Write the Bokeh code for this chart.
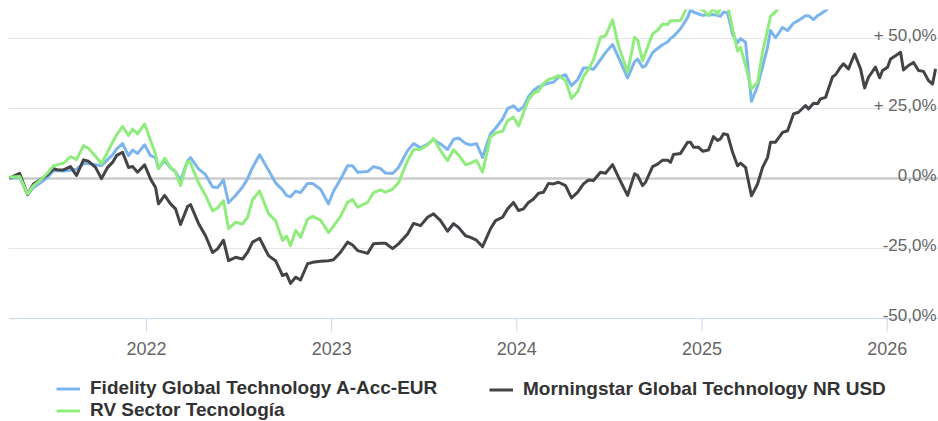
from bokeh.plotting import figure
from bokeh.models import Range1d, FixedTicker, Grid, Span, Legend, LegendItem
from bokeh.core.properties import value
from bokeh.embed import file_html
from bokeh.resources import INLINE

# ---------------- data (decimal year, % change) ----------------
years = [2021.261, 2021.315, 2021.358, 2021.390, 2021.428, 2021.466, 2021.498, 2021.520, 2021.552, 2021.590,
         2021.622, 2021.660, 2021.687, 2021.725, 2021.757, 2021.790, 2021.817, 2021.838, 2021.871, 2021.903,
         2021.925, 2021.952, 2021.990, 2022.022, 2022.049, 2022.065, 2022.098, 2022.130, 2022.157, 2022.184,
         2022.222, 2022.238, 2022.281, 2022.319, 2022.357, 2022.384, 2022.416, 2022.443, 2022.481, 2022.519,
         2022.546, 2022.573, 2022.611, 2022.659, 2022.697, 2022.735, 2022.756, 2022.778, 2022.805, 2022.832,
         2022.870, 2022.897, 2022.940, 2022.983, 2023.010, 2023.048, 2023.086, 2023.113, 2023.140, 2023.194,
         2023.226, 2023.264, 2023.291, 2023.329, 2023.361, 2023.410, 2023.442, 2023.480, 2023.518, 2023.550,
         2023.588, 2023.626, 2023.658, 2023.685, 2023.723, 2023.750, 2023.782, 2023.815, 2023.858, 2023.885,
         2023.923, 2023.950, 2023.982, 2024.009, 2024.036, 2024.063, 2024.090, 2024.117, 2024.144, 2024.171,
         2024.198, 2024.225, 2024.263, 2024.295, 2024.328, 2024.360, 2024.387, 2024.414, 2024.452, 2024.479,
         2024.517, 2024.549, 2024.598, 2024.636, 2024.652, 2024.679, 2024.695, 2024.733, 2024.760, 2024.787,
         2024.814, 2024.830, 2024.846, 2024.884, 2024.922, 2024.938, 2024.954, 2024.981, 2025.003, 2025.035,
         2025.062, 2025.084, 2025.100, 2025.116, 2025.138, 2025.165, 2025.192, 2025.208, 2025.235, 2025.267,
         2025.300, 2025.327, 2025.354, 2025.370, 2025.397, 2025.435, 2025.462, 2025.494, 2025.521, 2025.559,
         2025.575, 2025.602, 2025.624, 2025.640, 2025.667, 2025.705, 2025.721, 2025.748, 2025.764, 2025.791,
         2025.824, 2025.856, 2025.878, 2025.899, 2025.937, 2025.959, 2025.975, 2026.002, 2026.018, 2026.045,
         2026.072, 2026.088, 2026.115, 2026.142, 2026.169, 2026.196, 2026.223, 2026.245, 2026.261]

morningstar = [0.2, 1.9, -5.7, -1.9, -0.3, 1.4, 3.5, 3.2, 3.1, 4.3,
               1.1, 6.7, 6.2, 4.0, 0.0, 4.0, 5.8, 8.2, 9.4, 4.0,
               4.3, 2.3, 4.9, -0.1, -3.2, -9.0, -6.0, -9.0, -10.8, -16.4,
               -10.0, -9.3, -16.0, -20.4, -26.4, -25.1, -22.0, -29.3, -28.1, -28.7,
               -26.3, -22.7, -21.3, -27.5, -29.3, -34.6, -34.0, -37.4, -35.2, -36.2,
               -30.4, -29.9, -29.5, -29.3, -29.0, -26.3, -22.7, -23.7, -25.7, -26.7,
               -23.3, -23.1, -23.1, -25.0, -23.3, -19.8, -16.0, -16.8, -13.8, -12.6,
               -15.0, -18.8, -16.1, -17.4, -20.4, -21.0, -22.0, -24.3, -17.9, -15.0,
               -13.8, -10.8, -8.5, -11.4, -10.8, -8.5, -7.3, -5.2, -4.9, -1.7,
               -1.9, -1.3, -2.5, -6.9, -4.9, -1.9, -0.5, -0.7, 2.3, 1.9,
               5.0, 0.5, -6.0, 1.7, 1.1, -2.5, -1.3, 4.3, 5.2, 6.6,
               6.6, 5.8, 8.6, 9.0, 13.0, 13.0, 11.2, 11.2, 9.8, 10.2,
               15.0, 13.6, 14.2, 16.0, 15.7, 9.4, 4.6, 5.5, 4.0, -6.1,
               -1.9, 4.0, 7.6, 13.0, 13.0, 16.5, 17.1, 23.1, 23.7, 26.1,
               24.9, 26.9, 26.7, 28.5, 29.0, 36.4, 37.1, 39.8, 41.0, 39.2,
               44.5, 39.2, 32.4, 36.2, 39.8, 36.0, 38.6, 39.8, 42.7, 43.9,
               45.1, 38.8, 40.4, 41.5, 38.6, 38.3, 35.0, 33.8, 39.2]

fidelity = [0.0, 0.5, -5.7, -3.2, -1.5, 0.5, 2.9, 2.8, 2.7, 3.0,
            3.4, 5.3, 5.5, 5.0, 4.6, 6.8, 8.5, 10.5, 12.5, 8.2,
            10.2, 9.0, 12.1, 8.2, 7.5, 3.6, 6.4, 3.8, 2.5, -0.7,
            6.4, 7.5, 3.5, 1.4, -3.0, -3.2, -0.5, -8.6, -6.0, -3.0,
            0.0, 4.0, 8.5, 3.0, -1.5, -4.0, -6.0, -6.5, -4.5, -5.0,
            -1.7, -1.7, -3.8, -9.0, -4.5, -0.2, 4.6, 4.6, 2.3, 2.5,
            4.3, 3.6, 2.0, 1.8, 4.0, 10.0, 12.5, 11.0, 12.3, 14.0,
            12.4, 10.4, 14.0, 14.5, 12.6, 12.0, 12.5, 7.6, 16.0, 18.0,
            21.3, 25.0, 26.0, 24.3, 25.6, 29.3, 31.5, 32.8, 33.5, 34.1,
            34.4, 36.2, 37.1, 33.2, 35.3, 39.5, 39.5, 39.0, 42.5, 45.0,
            47.9, 43.3, 36.0, 41.8, 42.7, 39.8, 40.3, 45.0, 46.5, 47.8,
            48.8, 50.1, 50.8, 53.5, 57.5, 60.3, 59.5, 58.8, 58.3, 58.6,
            58.5, 58.3, 58.0, 59.5, 59.2, 51.5, 48.5, 50.0, 48.7, 27.6,
            33.0, 40.0, 47.0, 52.9, 50.3, 54.0, 52.9, 55.5, 56.5, 58.2,
            58.2, 56.8, 58.2, 58.8, 60.0, 62.5, 63.5, 65.0, 66.0, 65.0,
            69.0, 66.0, 63.0, 65.0, 67.0, 65.0, 66.0, 67.0, 69.0, 70.0,
            70.0, 67.0, 68.0, 68.0, 66.0, 66.0, 64.0, 63.5, 66.0]

rv_sector = [0.5, 0.8, -5.5, -2.5, -0.5, 2.0, 4.6, 5.0, 5.5, 7.9,
             6.8, 11.8, 10.8, 8.0, 5.3, 9.5, 13.0, 15.5, 18.6, 15.4,
             17.7, 16.0, 19.5, 13.6, 8.8, 3.6, 7.3, 4.0, 2.3, -2.5,
             6.4, 5.5, -1.5, -6.0, -11.5, -10.5, -7.9, -17.9, -15.6, -16.2,
             -13.8, -7.5, -4.4, -12.5, -15.0, -22.1, -20.5, -24.0, -18.5, -21.0,
             -14.5, -13.5, -14.8, -19.3, -17.0, -13.5, -8.5, -7.5, -10.2, -8.5,
             -5.0, -4.0, -4.8, -3.8, -1.5, 6.4, 10.3, 10.5, 12.0, 14.3,
             10.0, 6.4, 10.3, 8.5, 5.0, 5.5, 6.5, 2.3, 14.8, 16.3,
             16.9, 20.7, 22.0, 18.8, 23.5, 28.2, 30.5, 31.2, 34.0, 35.4,
             36.0, 36.8, 35.0, 28.6, 31.0, 36.5, 39.0, 42.5, 50.5, 51.0,
             56.7, 47.5, 38.0, 50.5, 49.5, 42.1, 45.0, 51.7, 53.0, 55.2,
             55.0, 56.4, 56.4, 56.5, 61.5, 63.0, 62.0, 61.0, 60.3, 58.2,
             60.8, 58.8, 60.8, 62.5, 62.0, 53.5, 45.5, 46.9, 40.4, 32.0,
             34.4, 45.3, 53.0, 58.0, 59.5, 63.0, 64.0, 66.0, 67.0, 69.0,
             68.0, 69.0, 69.0, 70.0, 71.0, 75.0, 76.0, 78.0, 79.0, 78.0,
             82.0, 78.0, 73.0, 76.0, 79.0, 76.0, 78.0, 79.0, 81.0, 82.0,
             83.0, 78.0, 79.0, 80.0, 78.0, 77.0, 75.0, 74.0, 78.0]

series_names = ["Fidelity Global Technology A-Acc-EUR",
                "Morningstar Global Technology NR USD",
                "RV Sector Tecnología"]
series_colors = ["#7cb5ec", "#434348", "#90ed7d"]

x_ticks = [2022, 2023, 2024, 2025, 2026]
x_tick_labels = ["2022", "2023", "2024", "2025", "2026"]
y_ticks = [50, 25, 0, -25, -50]
y_tick_labels = ["+ 50,0%", "+ 25,0%", "0,0%", "-25,0%", "-50,0%"]

# ---------------- layout ----------------
W, H = 938, 421
LEFT, TOP = 8, 9
frame_h = H - TOP
PX_PER_PCT = 2.8
x_min, x_max = 2021.255, 2026.277
y_max = 60.4
y_min = y_max - frame_h / PX_PER_PCT
y_axis_base = min(y_ticks)
tick_len = 13 / PX_PER_PCT

FONT = "Liberation Sans"

p = figure(width=W, height=H,
           x_range=Range1d(x_min, x_max), y_range=Range1d(y_min, y_max),
           output_backend="svg", toolbar_location=None,
           x_axis_location=None, y_axis_location=None,
           min_border_left=LEFT, min_border_right=0, min_border_top=TOP, min_border_bottom=0)
p.outline_line_color = None
p.background_fill_color = "white"
p.border_fill_color = "white"
for g in list(p.grid):
    g.visible = False

grid = Grid(dimension=1, ticker=FixedTicker(ticks=[t for t in y_ticks if t not in (0, y_axis_base)]),
            grid_line_color="#e6e6e6", grid_line_width=1)
p.add_layout(grid)
p.add_layout(Span(location=0, dimension="width", line_color="#cccccc", line_width=2.5, level="underlay"))

# x axis drawn at the -50 % line
p.add_layout(Span(location=y_axis_base, dimension="width", line_color="#ccd6eb", line_width=1, level="underlay"))
p.segment(x0=x_ticks, y0=[y_axis_base] * len(x_ticks), x1=x_ticks,
          y1=[y_axis_base - tick_len] * len(x_ticks), line_color="#ccd6eb", line_width=1)
p.text(x=x_ticks, y=[y_axis_base] * len(x_ticks), text=x_tick_labels,
       text_font=value(FONT), text_font_size="18px", text_color="#666666",
       text_align="center", text_baseline="alphabetic", y_offset=30)

series = [fidelity, morningstar, rv_sector]
renderers = []
for vals, col in zip(series, series_colors):
    r = p.line(years, vals, line_color=col, line_width=3, line_join="round")
    renderers.append(r)

p.text(x=[x_max] * len(y_ticks), y=y_ticks, text=y_tick_labels,
       text_font=value(FONT), text_font_size="17px", text_color="#666666",
       text_align="right", text_baseline="alphabetic", x_offset=-2, y_offset=-3)


def make_legend(items, loc):
    lg = Legend(items=items, orientation="vertical")
    lg.label_text_font = FONT
    lg.label_text_font_style = "bold"
    lg.label_text_font_size = "19px"
    lg.label_text_color = "#333333"
    lg.glyph_width = 24
    lg.glyph_height = 21
    lg.label_height = 21
    lg.label_standoff = 10
    lg.spacing = 0
    lg.padding = 0
    lg.margin = 0
    lg.border_line_color = None
    lg.background_fill_alpha = 0
    lg.location = loc
    return lg


leg_a = make_legend([LegendItem(label=series_names[0], renderers=[renderers[0]]),
                     LegendItem(label=series_names[2], renderers=[renderers[2]])], (48, 0))
leg_b = make_legend([LegendItem(label=series_names[1], renderers=[renderers[1]])], (481, 21))
p.add_layout(leg_a)
p.add_layout(leg_b)

open("out.html", "w").write(file_html(p, INLINE))
